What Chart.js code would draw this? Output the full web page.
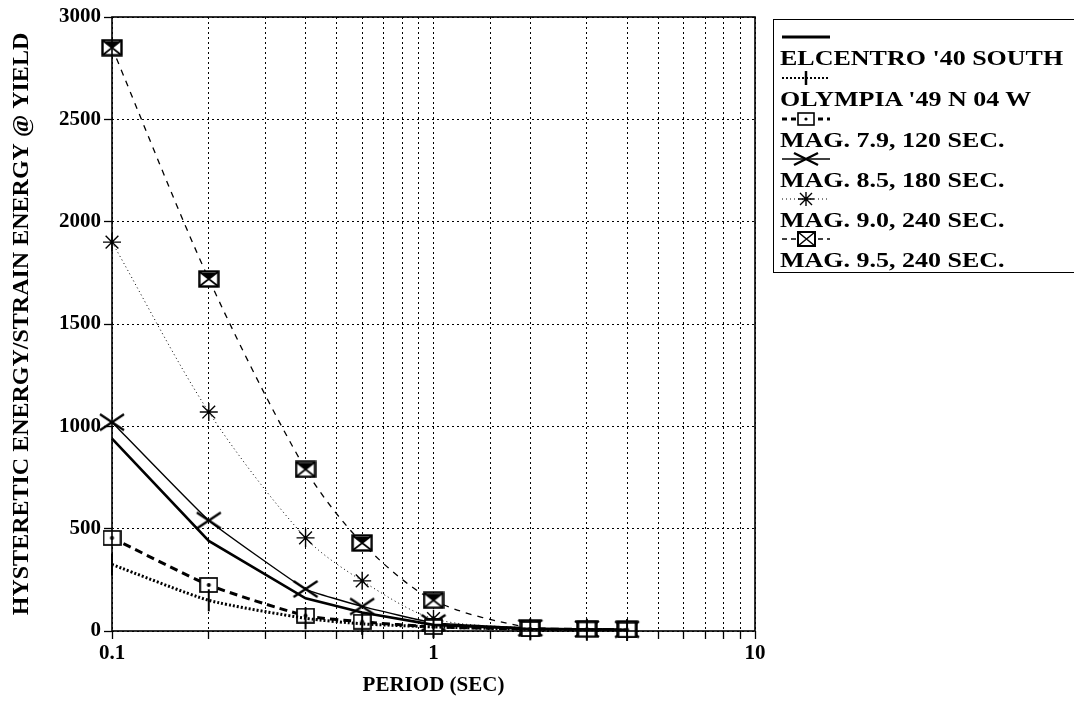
<!DOCTYPE html>
<html>
<head>
<meta charset="utf-8">
<script src="https://cdn.jsdelivr.net/npm/chart.js@4/dist/chart.umd.min.js"></script>
<style>
  html, body { margin: 0; padding: 0; background: #fff; }
  #wrap { position: relative; width: 1074px; height: 701px; overflow: hidden; }
  canvas#c { position: absolute; left: 0; top: 0; }
  #legend { position: absolute; left: 773px; top: 19px; width: 330px; height: 254px;
            border: 1.5px solid #000; box-sizing: border-box; font-family: 'Liberation Serif', 'Times New Roman', serif;
            font-weight: bold; font-size: 20px; color: #000; }
  .item { position: absolute; left: 6px; }
  .sample { display: block; width: 60px; height: 18px; }
  .lbl { display: block; white-space: nowrap; line-height: 20px; margin-top: 2px;
         transform: scaleX(1.3); transform-origin: 0 50%; }
</style>
</head>
<body>
<div id="wrap">
  <canvas id="c" width="1074" height="701"></canvas>
  <div id="legend"></div>
</div>
<script>
// ---- data ----
const periods  = [0.1, 0.2, 0.4, 0.6, 1, 2, 3, 4];
const elcentro = [940, 440, 160, 90, 30, 10, 8, 6];
const olympia  = [325, 150, 62, 35, 20, 8, 6, 5];
const mag79    = [455, 225, 75, 45, 20, 10, 8, 6];
const mag85    = [1020, 540, 205, 120, 40, 15, 10, 8];
const mag90    = [1900, 1070, 455, 245, 60, 15, 10, 8];
const mag95    = [2850, 1720, 790, 430, 150, 15, 12, 10];
const seriesNames = ["ELCENTRO '40 SOUTH", "OLYMPIA '49 N 04 W", "MAG. 7.9, 120 SEC.",
                     "MAG. 8.5, 180 SEC.", "MAG. 9.0, 240 SEC.", "MAG. 9.5, 240 SEC."];
const xTickLabels = [0.1, 1, 10];
const yTicks = [0, 500, 1000, 1500, 2000, 2500, 3000];

// ---- marker images ----
function mk(w, h, draw) {
  const c = document.createElement('canvas');
  c.width = w; c.height = h;
  const g = c.getContext('2d');
  draw(g, w, h);
  return c;
}
const boxDot = mk(19, 16, (g, w, h) => {
  g.fillStyle = '#fff'; g.fillRect(1, 1, w - 2, h - 2);
  g.strokeStyle = '#000'; g.lineWidth = 1.7; g.strokeRect(1, 1, w - 2, h - 2);
  g.fillStyle = '#000'; g.beginPath(); g.arc(w / 2, h / 2, 2, 0, Math.PI * 2); g.fill();
});
const boxX = mk(22, 18, (g, w, h) => {
  g.fillStyle = '#fff'; g.fillRect(1, 1, w - 2, h - 2);
  g.strokeStyle = '#000'; g.lineWidth = 2.4; g.strokeRect(1.5, 1.5, w - 3, h - 3);
  g.lineWidth = 1.6; g.beginPath();
  g.moveTo(2, 2); g.lineTo(w - 2, h - 2); g.moveTo(w - 2, 2); g.lineTo(2, h - 2); g.stroke();
  g.fillStyle = '#000'; g.beginPath();
  g.moveTo(4, 3); g.lineTo(w - 4, 3); g.lineTo(w / 2, h / 2); g.closePath(); g.fill();
});
const wideX = mk(28, 20, (g, w, h) => {
  g.strokeStyle = '#000'; g.lineWidth = 2.3; g.beginPath();
  g.moveTo(2, 2); g.lineTo(w - 2, h - 2); g.moveTo(w - 2, 2); g.lineTo(2, h - 2); g.stroke();
});

const pts = arr => periods.map((p, i) => ({ x: p, y: arr[i] }));

const datasets = [
  { label: seriesNames[0], data: pts(elcentro), borderColor: '#000', borderWidth: 2.6,
    pointRadius: 0, tension: 0, clip: false },
  { label: seriesNames[1], data: pts(olympia), borderColor: '#000', borderWidth: 3, borderDash: [2, 2],
    pointStyle: 'line', pointRotation: 90, pointRadius: 11, pointBorderWidth: 2, pointBorderColor: '#000',
    tension: 0.2, clip: false },
  { label: seriesNames[2], data: pts(mag79), borderColor: '#000', borderWidth: 3, borderDash: [8, 5],
    pointStyle: boxDot, tension: 0.2, clip: false },
  { label: seriesNames[3], data: pts(mag85), borderColor: '#000', borderWidth: 1.4,
    pointStyle: wideX, tension: 0.1, clip: false },
  { label: seriesNames[4], data: pts(mag90), borderColor: '#000', borderWidth: 1, borderDash: [1, 3],
    pointStyle: 'star', pointRadius: 9, pointBorderWidth: 1.4, pointBorderColor: '#000', tension: 0.3, clip: false },
  { label: seriesNames[5], data: pts(mag95), borderColor: '#000', borderWidth: 1.3, borderDash: [6, 6],
    pointStyle: boxX, tension: 0.3, clip: false }
];

const FONT = "'Liberation Serif', 'Times New Roman', serif";

const frame = {
  id: 'frame',
  afterDatasetsDraw(chart) {
    const { ctx, chartArea: a } = chart;
    ctx.save();
    ctx.strokeStyle = '#000'; ctx.lineWidth = 1.6;
    ctx.strokeRect(a.left, a.top, a.right - a.left, a.bottom - a.top);
    ctx.restore();
  }
};

new Chart(document.getElementById('c'), {
  type: 'line',
  data: { datasets },
  plugins: [frame],
  options: {
    responsive: false,
    animation: false,
    layout: { padding: { left: 0, right: 319, top: 17, bottom: 0 } },
    plugins: { legend: { display: false }, tooltip: { enabled: false } },
    scales: {
      x: {
        type: 'logarithmic', min: 0.1, max: 10,
        afterFit: s => { s.height = 70; },
        grid: { color: '#000', lineWidth: 1, tickLength: 8, tickColor: '#000', tickWidth: 1.3, tickBorderDash: [] },
        border: { display: false, dash: [2, 3] },
        ticks: {
          color: '#000', padding: 2, autoSkip: false, maxRotation: 0,
          font: { family: FONT, weight: 'bold', size: 21 },
          callback: v => xTickLabels.some(t => Math.abs(t - v) < 1e-9) ? String(v) : ''
        },
        title: { display: true, text: 'PERIOD (SEC)', color: '#000', padding: { top: 0, bottom: 3 },
                 font: { family: FONT, weight: 'bold', size: 21 } }
      },
      y: {
        min: 0, max: 3000,
        afterFit: s => { s.width = 112; },
        afterBuildTicks: s => { s.ticks = yTicks.map(v => ({ value: v })); },
        grid: { color: '#000', lineWidth: 1, tickLength: 8, tickColor: '#000', tickWidth: 1.3, tickBorderDash: [] },
        border: { display: false, dash: [2, 3] },
        ticks: { color: '#000', padding: 3, font: { family: FONT, weight: 'bold', size: 21 },
                 callback: v => String(v) },
        title: { display: true, text: 'HYSTERETIC ENERGY/STRAIN ENERGY @ YIELD', color: '#000',
                 padding: { top: 7, bottom: 0 }, font: { family: FONT, weight: 'bold', size: 24 } }
      }
    }
  }
});

// ---- legend (sample above label) ----
function sampleSVG(i) {
  const L = (dash, w) => `<line x1="2" y1="9" x2="50" y2="9" stroke="#000" stroke-width="${w}" ${dash ? `stroke-dasharray="${dash}"` : ''}/>`;
  switch (i) {
    case 0: return L('', 3);
    case 1: return L('2,2', 2) + `<line x1="26" y1="2" x2="26" y2="16" stroke="#000" stroke-width="2.5"/>`;
    case 2: return L('5,4', 3) + `<rect x="18" y="3" width="16" height="12" fill="#fff" stroke="#000" stroke-width="1.6"/><circle cx="26" cy="9" r="1.6"/>`;
    case 3: return L('', 1.5) + `<path d="M14 3 L38 15 M38 3 L14 15" stroke="#000" stroke-width="2.4"/>`;
    case 4: return L('1,3', 1) + `<path d="M18 9 H34 M26 2 V16 M20 3 L32 15 M32 3 L20 15" stroke="#000" stroke-width="1.4"/>`;
    case 5: return L('5,4', 1.4) + `<rect x="18" y="2" width="17" height="14" fill="#fff" stroke="#000" stroke-width="2"/><path d="M18 2 L35 16 M35 2 L18 16" stroke="#000" stroke-width="1.5"/>`;
  }
}
const legend = document.getElementById('legend');
const tops = [8, 49, 90, 130, 170, 210];
seriesNames.forEach((name, i) => {
  const d = document.createElement('div');
  d.className = 'item';
  d.style.top = tops[i] + 'px';
  d.innerHTML = `<svg class="sample" viewBox="0 0 60 18">${sampleSVG(i)}</svg><span class="lbl">${name}</span>`;
  legend.appendChild(d);
});
</script>
</body>
</html>
